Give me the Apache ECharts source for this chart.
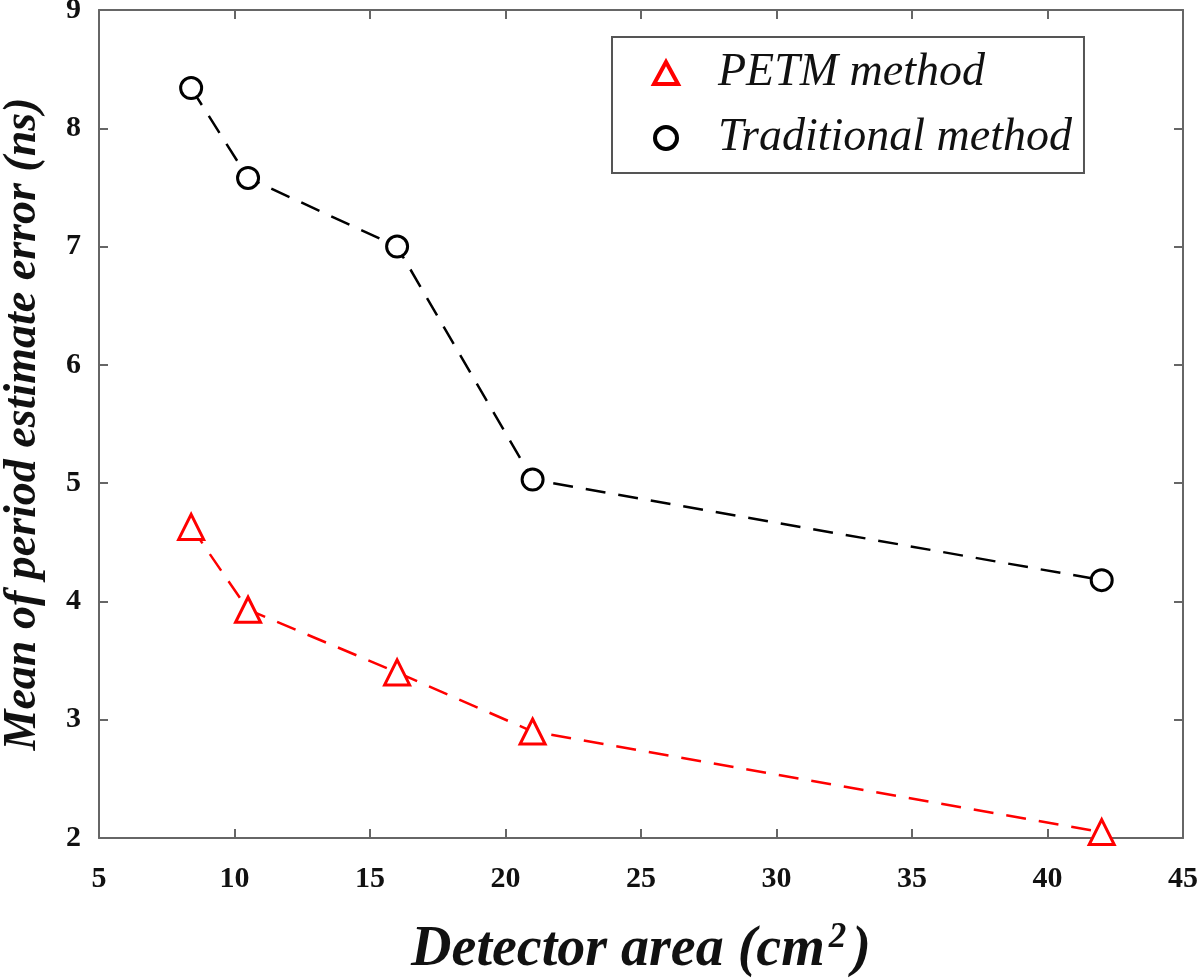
<!DOCTYPE html>
<html><head><meta charset="utf-8">
<script src="https://cdn.jsdelivr.net/npm/echarts@6/dist/echarts.min.js"></script>
<style>html,body{margin:0;padding:0;background:#fff}#c{width:1200px;height:979px}</style>
</head><body><div id="c"></div>
<script>
const detectorArea = [8.4, 10.5, 16, 21, 42];
const petm = [4.63, 3.93, 3.40, 2.90, 2.05];
const traditional = [8.34, 7.58, 7.00, 5.03, 4.18];
const xTicks = [5, 10, 15, 20, 25, 30, 35, 40, 45];
const yTicks = [2, 3, 4, 5, 6, 7, 8, 9];

const chart = echarts.init(document.getElementById('c'));
const axisCol = '#666';
const tickFont = {fontFamily: 'Liberation Serif', fontWeight: 'bold', fontSize: 30, color: '#111'};
const baseX = {type: 'value', min: xTicks[0], max: xTicks[xTicks.length - 1], interval: xTicks[1] - xTicks[0], splitLine: {show: false},
  axisLine: {lineStyle: {color: axisCol, width: 2}}, axisTick: {inside: true, length: 9, lineStyle: {color: axisCol, width: 2}}};
const baseY = {type: 'value', min: yTicks[0], max: yTicks[yTicks.length - 1], interval: yTicks[1] - yTicks[0], splitLine: {show: false},
  axisLine: {lineStyle: {color: axisCol, width: 2}}, axisTick: {inside: true, length: 9, lineStyle: {color: axisCol, width: 2}}};

chart.setOption({
  animation: false,
  backgroundColor: '#fff',
  grid: {left: 99, right: 17, top: 10, bottom: 141, containLabel: false, outerBoundsMode: 'none'},
  xAxis: [
    Object.assign({}, baseX, {position: 'bottom',
      axisLabel: Object.assign({margin: 26}, tickFont),
      name: '{t|Detector area (cm}{s|2}{t|)}', nameLocation: 'middle', nameGap: 82,
      nameTextStyle: {rich: {
        t: {fontFamily: 'Liberation Serif', fontStyle: 'italic', fontWeight: 'bold', fontSize: 56, color: '#111'},
        s: {fontFamily: 'Liberation Serif', fontStyle: 'italic', fontWeight: 'bold', fontSize: 35, color: '#111', verticalAlign: 'top', padding: [0, 6, 26, 4]}
      }}}),
    Object.assign({}, baseX, {position: 'top', axisLabel: {show: false}})
  ],
  yAxis: [
    Object.assign({}, baseY, {position: 'left',
      axisLabel: Object.assign({margin: 18}, tickFont),
      name: 'Mean of period estimate error (ns)', nameLocation: 'middle', nameGap: 53,
      nameTextStyle: {fontFamily: 'Liberation Serif', fontStyle: 'italic', fontWeight: 'bold', fontSize: 46, color: '#111'}}),
    Object.assign({}, baseY, {position: 'right', axisLabel: {show: false}})
  ],
  legend: {
    orient: 'vertical', left: 612, top: 37,
    padding: [13, 12, 12, 40], itemGap: 19,
    borderColor: '#555', borderWidth: 2, backgroundColor: '#fff',
    itemWidth: 24, itemHeight: 22,
    textStyle: {fontFamily: 'Liberation Serif', fontStyle: 'italic', fontSize: 46, color: '#111', padding: [0, 0, 0, 35]},
    data: [
      {name: 'PETM method', icon: 'triangle', itemStyle: {color: '#fff', borderColor: '#ff0000', borderWidth: 4}},
      {name: 'Traditional method', icon: 'circle', itemStyle: {color: '#fff', borderColor: '#000', borderWidth: 4}}
    ]
  },
  series: [
    {name: 'PETM method', type: 'line', data: detectorArea.map((x, i) => [x, petm[i]]),
      symbol: 'triangle', symbolSize: 25, showAllSymbol: true,
      lineStyle: {color: '#ff0000', width: 2.5, type: [20, 13]},
      itemStyle: {color: '#fff', borderColor: '#ff0000', borderWidth: 3}},
    {name: 'Traditional method', type: 'line', data: detectorArea.map((x, i) => [x, traditional[i]]),
      symbol: 'circle', symbolSize: 21, showAllSymbol: true,
      lineStyle: {color: '#000', width: 2.5, type: [20, 13]},
      itemStyle: {color: '#fff', borderColor: '#000', borderWidth: 3}}
  ]
});
</script></body></html>
